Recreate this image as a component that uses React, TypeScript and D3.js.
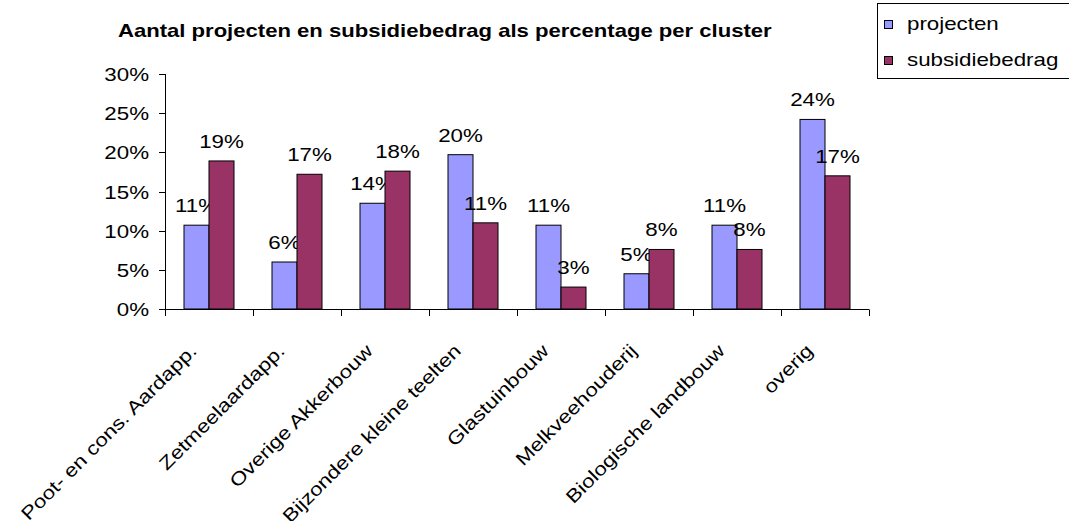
import React from "react";
import * as d3 from "d3";

const categories = [
  "Poot- en cons. Aardapp.",
  "Zetmeelaardapp.",
  "Overige Akkerbouw",
  "Bijzondere kleine teelten",
  "Glastuinbouw",
  "Melkveehouderij",
  "Biologische landbouw",
  "overig",
];
const projecten = [10.7, 6.0, 13.5, 19.7, 10.7, 4.5, 10.7, 24.2];
const subsidiebedrag = [18.9, 17.2, 17.6, 11.0, 2.8, 7.6, 7.6, 17.0];
const yTicks = [0, 5, 10, 15, 20, 25, 30];
const seriesNames = ["projecten", "subsidiebedrag"];
const colors = ["#9999FF", "#993366"];

const W = 1069;
const H = 521;
const font = "'Liberation Sans', Arial, sans-serif";
const fs = 18.6;
const sx = 1.2; // the reference text is drawn horizontally stretched

// text drawn at (x, y), stretched along its own baseline
const T = ({ x, y, rot = 0, anchor = "start", size = fs, weight = "normal", children }: any) => (
  <text
    transform={`translate(${x},${y}) rotate(${rot}) scale(${sx},1)`}
    fontSize={size}
    fontWeight={weight}
    textAnchor={anchor}
  >
    {children}
  </text>
);

export default function App() {
  const x0 = d3.scaleBand().domain(categories).range([165, 869]).paddingInner(0).paddingOuter(0);
  const x1 = d3.scaleBand().domain(seriesNames).range([0, 50]);
  const y = d3.scaleLinear().domain([0, 30]).range([309, 74]);
  const groupOffset = (x0.bandwidth() - 50) / 2;
  const series = [projecten, subsidiebedrag];

  return (
    <svg width={W} height={H} style={{ position: "absolute", left: 0, top: 0 }} fontFamily={font}>
      <rect width={W} height={H} fill="#fff" />
      <T x={118} y={37} size={18.4} weight="bold">
        Aantal projecten en subsidiebedrag als percentage per cluster
      </T>

      {/* legend */}
      <rect x={877.5} y={3.5} width={200} height={75} fill="#fff" stroke="#000" />
      {seriesNames.map((s, i) => (
        <g key={s}>
          <rect x={884.5} y={20.5 + i * 36} width={8} height={8} fill={colors[i]} stroke="#000" />
          <T x={907} y={30 + i * 36}>{s}</T>
        </g>
      ))}

      {/* y axis */}
      <line x1={165.5} x2={165.5} y1={y(30)} y2={y(0)} stroke="#000" />
      {yTicks.map((t) => (
        <g key={t}>
          <line x1={159} x2={165.5} y1={Math.round(y(t)) + 0.5} y2={Math.round(y(t)) + 0.5} stroke="#000" />
          <T x={149} y={y(t) + 7} anchor="end">{t}%</T>
        </g>
      ))}

      {/* x axis */}
      <line x1={165} x2={869} y1={309.5} y2={309.5} stroke="#000" />
      {[...categories.map((c) => x0(c)!), 869].map((v, i) => (
        <line key={i} x1={Math.round(v) + 0.5} x2={Math.round(v) + 0.5} y1={309.5} y2={316} stroke="#000" />
      ))}

      {/* bars */}
      {categories.map((c, ci) =>
        series.map((vals, si) => {
          const bx = x0(c)! + groupOffset + x1(seriesNames[si])!;
          const by = y(vals[ci]);
          return (
            <g key={c + si}>
              <rect
                x={bx}
                y={by}
                width={x1.bandwidth()}
                height={y(0) - by}
                fill={colors[si]}
                stroke="#000"
                strokeWidth={1}
              />
              <T x={bx + x1.bandwidth() / 2} y={by - 13} anchor="middle">
                {Math.round(vals[ci])}%
              </T>
            </g>
          );
        })
      )}

      {/* category labels */}
      {categories.map((c) => {
        const cx = x0(c)! + x0.bandwidth() / 2;
        return (
          <T key={c} x={cx - 11} y={352} rot={-45} anchor="end">
            {c}
          </T>
        );
      })}
    </svg>
  );
}
